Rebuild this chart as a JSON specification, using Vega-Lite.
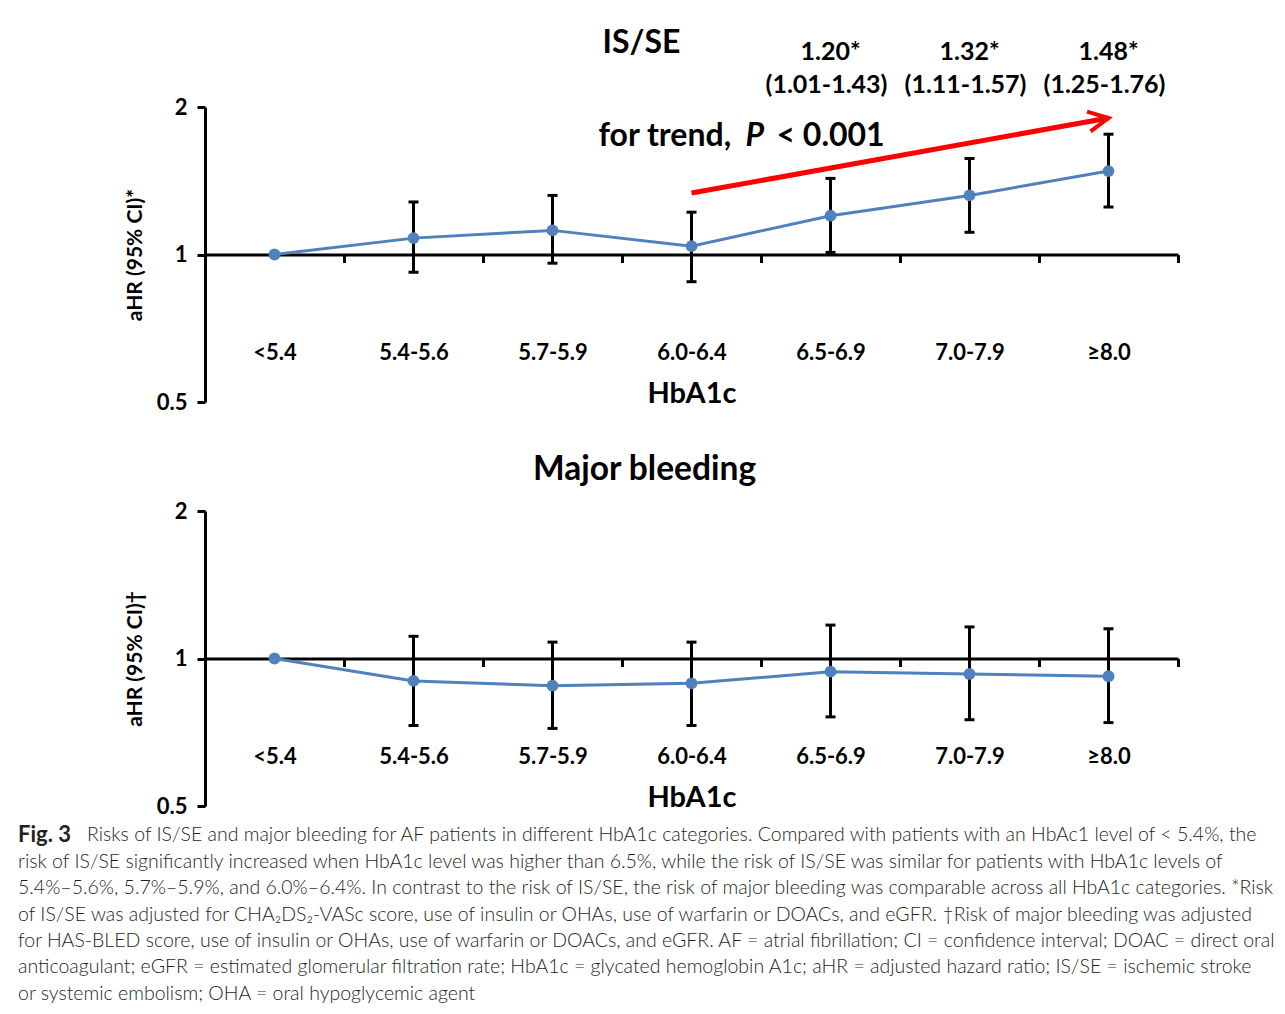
{
  "$schema": "https://vega.github.io/schema/vega-lite/v6.json",
  "background": "white",
  "padding": {"left": 18, "top": 27, "right": 5, "bottom": 5},
  "config": {"view": {"stroke": null}, "font": "Lato"},
  "datasets": {
    "isse": [
      {"cat": "<5.4", "hr": 1.00, "lo": null, "hi": null},
      {"cat": "5.4-5.6", "hr": 1.08, "lo": 0.92, "hi": 1.28},
      {"cat": "5.7-5.9", "hr": 1.12, "lo": 0.96, "hi": 1.32},
      {"cat": "6.0-6.4", "hr": 1.04, "lo": 0.88, "hi": 1.22},
      {"cat": "6.5-6.9", "hr": 1.20, "lo": 1.01, "hi": 1.43},
      {"cat": "7.0-7.9", "hr": 1.32, "lo": 1.11, "hi": 1.57},
      {"cat": "≥8.0", "hr": 1.48, "lo": 1.25, "hi": 1.76}
    ],
    "bleed": [
      {"cat": "<5.4", "hr": 1.00, "lo": null, "hi": null},
      {"cat": "5.4-5.6", "hr": 0.90, "lo": 0.73, "hi": 1.11},
      {"cat": "5.7-5.9", "hr": 0.88, "lo": 0.72, "hi": 1.08},
      {"cat": "6.0-6.4", "hr": 0.89, "lo": 0.73, "hi": 1.08},
      {"cat": "6.5-6.9", "hr": 0.94, "lo": 0.76, "hi": 1.17},
      {"cat": "7.0-7.9", "hr": 0.93, "lo": 0.75, "hi": 1.16},
      {"cat": "≥8.0", "hr": 0.92, "lo": 0.74, "hi": 1.15}
    ],
    "notes": [
      {"cat": "6.5-6.9", "est": "1.20*", "ci": "(1.01-1.43)"},
      {"cat": "7.0-7.9", "est": "1.32*", "ci": "(1.11-1.57)"},
      {"cat": "≥8.0", "est": "1.48*", "ci": "(1.25-1.76)"}
    ],
    "trend": [
      {"from": "6.0-6.4", "to": "≥8.0", "y1": 1.335, "y2": 1.899, "t1": "for trend,", "p": "P", "t2": "< 0.001"}
    ],
    "caption": [
      {"line": 2, "text": "risk of IS/SE significantly increased when HbA1c level was higher than 6.5%, while the risk of IS/SE was similar for patients with HbA1c levels of"},
      {"line": 3, "text": "5.4%–5.6%, 5.7%–5.9%, and 6.0%–6.4%. In contrast to the risk of IS/SE, the risk of major bleeding was comparable across all HbA1c categories. *Risk"},
      {"line": 4, "text": "of IS/SE was adjusted for CHA₂DS₂-VASc score, use of insulin or OHAs, use of warfarin or DOACs, and eGFR. †Risk of major bleeding was adjusted"},
      {"line": 5, "text": "for HAS-BLED score, use of insulin or OHAs, use of warfarin or DOACs, and eGFR. AF = atrial fibrillation; CI = confidence interval; DOAC = direct oral"},
      {"line": 6, "text": "anticoagulant; eGFR = estimated glomerular filtration rate; HbA1c = glycated hemoglobin A1c; aHR = adjusted hazard ratio; IS/SE = ischemic stroke"},
      {"line": 7, "text": "or systemic embolism; OHA = oral hypoglycemic agent"}
    ],
    "caption1": [
      {"line": 1, "fig": "Fig. 3", "text": "Risks of IS/SE and major bleeding for AF patients in different HbA1c categories. Compared with patients with an HbAc1 level of < 5.4%, the"}
    ]
  },
  "vconcat": [
    {
      "width": 973,
      "height": 295,
      "title": {"text": "IS/SE", "font": "Lato", "fontSize": 32, "fontWeight": "bold", "color": "black", "anchor": "middle", "dx": -50, "offset": -20},
      "data": {"name": "isse"},
      "encoding": {
        "x": {
          "field": "cat", "type": "ordinal",
          "scale": {"type": "band", "domain": ["<5.4", "5.4-5.6", "5.7-5.9", "6.0-6.4", "6.5-6.9", "7.0-7.9", "≥8.0"], "paddingInner": 0, "paddingOuter": 0},
          "axis": {"title": "HbA1c", "orient": "bottom", "offset": -147.5, "tickBand": "extent", "grid": false,
            "domainColor": "black", "domainWidth": 3, "tickColor": "black", "tickWidth": 3, "tickSize": 8,
            "labelAngle": 0, "labelFont": "Lato", "labelFontWeight": "bold", "labelFontSize": 22, "labelColor": "black", "labelPadding": 80,
            "titleFont": "Lato", "titleFontSize": 29, "titleFontWeight": "bold", "titleColor": "black", "titlePadding": 16}
        }
      },
      "layer": [
        {
          "mark": {"type": "rule", "color": "black", "strokeWidth": 3},
          "encoding": {
            "y": {"field": "lo", "type": "quantitative",
              "scale": {"type": "log", "domain": [0.5, 2], "nice": false},
              "axis": {"title": "aHR (95% CI)*", "values": [0.5, 1, 2], "labelExpr": "datum.value + ''", "grid": false, "labelFlush": false, "labelOverlap": false,
                "domainColor": "black", "domainWidth": 3, "tickColor": "black", "tickWidth": 3, "tickSize": 8,
                "labelFont": "Lato", "labelFontWeight": "bold", "labelFontSize": 22, "labelColor": "black", "labelPadding": 10,
                "titleFont": "Lato", "titleFontSize": 21, "titleFontWeight": "bold", "titleColor": "black", "titlePadding": 11}},
            "y2": {"field": "hi"}
          }
        },
        {"mark": {"type": "tick", "color": "black", "size": 10, "thickness": 3, "opacity": 1}, "encoding": {"y": {"field": "lo", "type": "quantitative"}}},
        {"mark": {"type": "tick", "color": "black", "size": 10, "thickness": 3, "opacity": 1}, "encoding": {"y": {"field": "hi", "type": "quantitative"}}},
        {"mark": {"type": "line", "color": "#4F81BD", "strokeWidth": 3}, "encoding": {"y": {"field": "hr", "type": "quantitative"}}},
        {"mark": {"type": "point", "filled": true, "color": "#4F81BD", "opacity": 1, "size": 140}, "encoding": {"y": {"field": "hr", "type": "quantitative"}}},
        {
          "data": {"name": "notes"},
          "mark": {"type": "text", "font": "Lato", "fontWeight": "bold", "fontSize": 25, "color": "black", "baseline": "middle", "dy": -55},
          "encoding": {"y": {"datum": 2, "type": "quantitative"}, "text": {"field": "est"}}
        },
        {
          "data": {"name": "notes"},
          "mark": {"type": "text", "font": "Lato", "fontWeight": "bold", "fontSize": 25, "color": "black", "baseline": "middle", "dy": -22, "dx": -4},
          "encoding": {"y": {"datum": 2, "type": "quantitative"}, "text": {"field": "ci"}}
        },
        {
          "data": {"name": "trend"},
          "mark": {"type": "rule", "color": "#FF0000", "strokeWidth": 5},
          "encoding": {"x": {"field": "from", "type": "ordinal"}, "x2": {"field": "to"}, "y": {"field": "y1", "type": "quantitative"}, "y2": {"field": "y2"}}
        },
        {
          "data": {"name": "trend"},
          "mark": {"type": "point", "shape": "M-2,-1L0,0L-2,1", "filled": false, "stroke": "#FF0000", "strokeWidth": 4, "opacity": 1, "size": 400, "angle": -10},
          "encoding": {"x": {"field": "to", "type": "ordinal"}, "y": {"field": "y2", "type": "quantitative"}}
        },
        {
          "data": {"name": "trend"},
          "mark": {"type": "text", "font": "Lato", "fontWeight": "bold", "fontSize": 32, "color": "black", "align": "left", "baseline": "middle", "dy": 29, "dx": -93},
          "encoding": {"x": {"field": "from", "type": "ordinal"}, "y": {"datum": 2, "type": "quantitative"}, "text": {"field": "t1"}}
        },
        {
          "data": {"name": "trend"},
          "mark": {"type": "text", "font": "Lato", "fontWeight": "bold", "fontStyle": "italic", "fontSize": 32, "color": "black", "align": "left", "baseline": "middle", "dy": 29, "dx": 54},
          "encoding": {"x": {"field": "from", "type": "ordinal"}, "y": {"datum": 2, "type": "quantitative"}, "text": {"field": "p"}}
        },
        {
          "data": {"name": "trend"},
          "mark": {"type": "text", "font": "Lato", "fontWeight": "bold", "fontSize": 32, "color": "black", "align": "left", "baseline": "middle", "dy": 29, "dx": 85},
          "encoding": {"x": {"field": "from", "type": "ordinal"}, "y": {"datum": 2, "type": "quantitative"}, "text": {"field": "t2"}}
        }
      ]
    },
    {
      "width": 973,
      "height": 295,
      "title": {"text": "Major bleeding", "font": "Lato", "fontSize": 33.5, "fontWeight": "bold", "color": "black", "anchor": "middle", "dx": -47, "offset": 13},
      "data": {"name": "bleed"},
      "encoding": {
        "x": {
          "field": "cat", "type": "ordinal",
          "scale": {"type": "band", "domain": ["<5.4", "5.4-5.6", "5.7-5.9", "6.0-6.4", "6.5-6.9", "7.0-7.9", "≥8.0"], "paddingInner": 0, "paddingOuter": 0},
          "axis": {"title": "HbA1c", "orient": "bottom", "offset": -147.5, "tickBand": "extent", "grid": false,
            "domainColor": "black", "domainWidth": 3, "tickColor": "black", "tickWidth": 3, "tickSize": 8,
            "labelAngle": 0, "labelFont": "Lato", "labelFontWeight": "bold", "labelFontSize": 22, "labelColor": "black", "labelPadding": 80,
            "titleFont": "Lato", "titleFontSize": 29, "titleFontWeight": "bold", "titleColor": "black", "titlePadding": 16}
        }
      },
      "layer": [
        {
          "mark": {"type": "rule", "color": "black", "strokeWidth": 3},
          "encoding": {
            "y": {"field": "lo", "type": "quantitative",
              "scale": {"type": "log", "domain": [0.5, 2], "nice": false},
              "axis": {"title": "aHR (95% CI)†", "values": [0.5, 1, 2], "labelExpr": "datum.value + ''", "grid": false, "labelFlush": false, "labelOverlap": false,
                "domainColor": "black", "domainWidth": 3, "tickColor": "black", "tickWidth": 3, "tickSize": 8,
                "labelFont": "Lato", "labelFontWeight": "bold", "labelFontSize": 22, "labelColor": "black", "labelPadding": 10,
                "titleFont": "Lato", "titleFontSize": 21, "titleFontWeight": "bold", "titleColor": "black", "titlePadding": 11}},
            "y2": {"field": "hi"}
          }
        },
        {"mark": {"type": "tick", "color": "black", "size": 10, "thickness": 3, "opacity": 1}, "encoding": {"y": {"field": "lo", "type": "quantitative"}}},
        {"mark": {"type": "tick", "color": "black", "size": 10, "thickness": 3, "opacity": 1}, "encoding": {"y": {"field": "hi", "type": "quantitative"}}},
        {"mark": {"type": "line", "color": "#4F81BD", "strokeWidth": 3}, "encoding": {"y": {"field": "hr", "type": "quantitative"}}},
        {"mark": {"type": "point", "filled": true, "color": "#4F81BD", "opacity": 1, "size": 140}, "encoding": {"y": {"field": "hr", "type": "quantitative"}}}
      ]
    },
    {
      "width": 973,
      "height": 185,
      "layer": [
        {
          "data": {"name": "caption"},
          "mark": {"type": "text", "align": "left", "baseline": "middle", "font": "Lato", "fontWeight": 300, "fontSize": 19.5, "color": "#231F20", "dx": -187, "dy": -93},
          "encoding": {
            "y": {"field": "line", "type": "ordinal", "axis": null, "scale": {"domain": [1, 2, 3, 4, 5, 6, 7], "paddingInner": 0, "paddingOuter": 0}},
            "x": {"datum": 0, "type": "quantitative", "scale": {"domain": [0, 1]}, "axis": null},
            "text": {"field": "text"}
          }
        },
        {
          "data": {"name": "caption1"},
          "mark": {"type": "text", "align": "left", "baseline": "middle", "font": "Lato", "fontWeight": "bold", "fontSize": 22, "color": "#231F20", "dx": -187, "dy": -93},
          "encoding": {
            "y": {"field": "line", "type": "ordinal"},
            "x": {"datum": 0, "type": "quantitative"},
            "text": {"field": "fig"}
          }
        },
        {
          "data": {"name": "caption1"},
          "mark": {"type": "text", "align": "left", "baseline": "middle", "font": "Lato", "fontWeight": 300, "fontSize": 19.5, "color": "#231F20", "dx": -118, "dy": -93},
          "encoding": {
            "y": {"field": "line", "type": "ordinal"},
            "x": {"datum": 0, "type": "quantitative"},
            "text": {"field": "text"}
          }
        }
      ]
    }
  ],
  "spacing": 109,
  "bounds": "flush"
}
